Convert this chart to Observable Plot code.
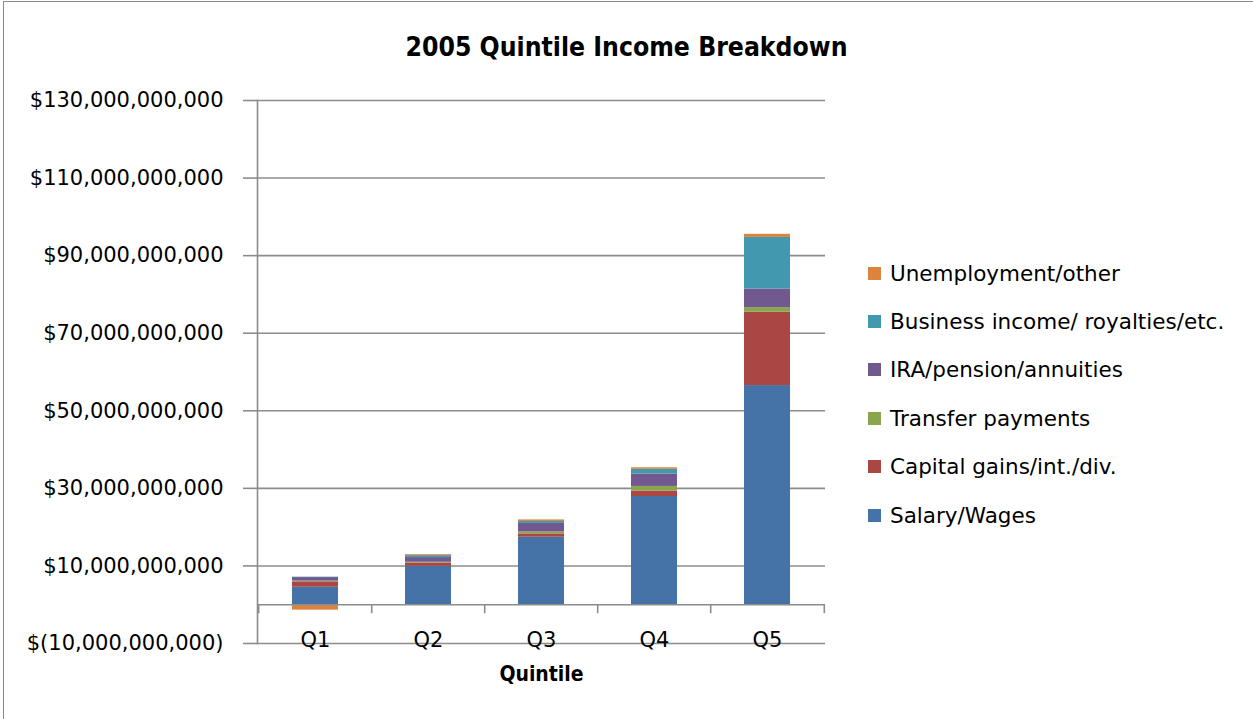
<!DOCTYPE html>
<html>
<head>
<meta charset="utf-8">
<script src="https://cdn.jsdelivr.net/npm/d3@7"></script>
<script src="https://cdn.jsdelivr.net/npm/@observablehq/plot@0.6"></script>
<style>
  html, body { margin: 0; padding: 0; background: #fff; }
  #wrap { position: relative; width: 1253px; height: 719px; overflow: hidden; font-family: "DejaVu Sans", sans-serif; }
  #border { position: absolute; left: 3px; top: 1px; right: -5px; bottom: -5px; border: 1.5px solid #8a8a8a; pointer-events: none; }
  #title { position: absolute; left: 0; top: 0; width: 1253px; height: 80px; text-align: center; line-height: 94px;
           font-family: "DejaVu Sans Condensed", "DejaVu Sans", sans-serif; font-weight: bold; font-size: 26.3px; color: #000; }
  #chart { position: absolute; left: 0; top: 80px; }
  #legend { position: absolute; left: 868px; top: 249px; }
  .item { height: 48.4px; display: flex; align-items: center; font-size: 21.5px; color: #000; white-space: nowrap; }
  .sw { width: 13px; height: 13px; margin-right: 9px; flex: none; }
</style>
</head>
<body>
<div id="wrap">
  <div id="title">2005 Quintile Income Breakdown</div>
  <div id="chart"></div>
  <div id="legend"></div>
  <div id="border"></div>
</div>
<script>
// Categories
const quintiles = ["Q1", "Q2", "Q3", "Q4", "Q5"];
// Series (bottom to top)
const seriesNames = ["Salary/Wages", "Capital gains/int./div.", "Transfer payments", "IRA/pension/annuities", "Business income/ royalties/etc.", "Unemployment/other"];
const seriesColors = ["#4572A7", "#AA4643", "#89A54E", "#71588F", "#4198AF", "#DB843D"];
// Values in billions of dollars, per quintile
const salaryWages      = [4.5, 9.9, 17.4, 27.9, 56.5];
const capitalGains     = [1.4, 0.85, 0.86, 1.4, 18.9];
const transferPayments = [0.2, 0.2, 0.5, 1.2, 1.2];
const iraPension       = [0.9, 1.2, 2.2, 3.2, 4.8];
const businessIncome   = [0.1, 0.5, 0.5, 1.2, 13.3];
const unemployment     = [-1.4, 0.25, 0.4, 0.4, 0.8];
// Y axis tick values
const yTicks = [-10e9, 10e9, 30e9, 50e9, 70e9, 90e9, 110e9, 130e9];

const seriesValues = [salaryWages, capitalGains, transferPayments, iraPension, businessIncome, unemployment];
const table = [];
seriesNames.forEach((s, si) => {
  quintiles.forEach((q, qi) => {
    table.push({quintile: q, series: s, value: seriesValues[si][qi] * 1e9});
  });
});

const W = 1253, H = 639;
const mL = 257, mR = 428, mT = 20, mB = 76;
const step = (W - mL - mR) / quintiles.length;
const fmt = d3.format(",");
const yFmt = v => v < 0 ? "$(" + fmt(-v) + ")" : "$" + fmt(v);
const grid = "#8c8c8c";

const plot = Plot.plot({
  width: W,
  height: H,
  marginLeft: mL,
  marginRight: mR,
  marginTop: mT,
  marginBottom: mB,
  style: {fontFamily: "DejaVu Sans, sans-serif", fontSize: "21px", color: "#000", background: "#fff"},
  x: {type: "band", domain: quintiles, paddingInner: 0.595, paddingOuter: 0.2975, axis: null},
  y: {domain: [-10e9, 130e9], axis: null},
  color: {domain: seriesNames, range: seriesColors, legend: false},
  marks: [
    Plot.ruleY(yTicks, {stroke: grid, strokeWidth: 1.6}),
    Plot.axisY({ticks: yTicks, tickFormat: yFmt, tickSize: 14, tickPadding: 20, stroke: grid, strokeWidth: 1.6, strokeOpacity: 1, fontSize: 21, fill: "#000", label: null}),
    Plot.frame({anchor: "left", stroke: grid, strokeWidth: 1.6}),
    Plot.barY(table, {x: "quintile", y: "value", fill: "series", order: seriesNames}),
    Plot.ruleY([0], {stroke: grid, strokeWidth: 1.6}),
    Plot.ruleX(quintiles, {x: d => d, y1: 0, y2: 0, dx: -step / 2, insetBottom: -9, stroke: grid, strokeWidth: 1.6}),
    Plot.ruleX([quintiles[quintiles.length - 1]], {x: d => d, y1: 0, y2: 0, dx: step / 2, insetBottom: -9, stroke: grid, strokeWidth: 1.6}),
    Plot.text(quintiles, {x: d => d, frameAnchor: "bottom", dy: -3, lineAnchor: "middle", fontSize: 21, fill: "#000"}),
    Plot.text(["Quintile"], {frameAnchor: "bottom", dy: 31, lineAnchor: "middle", fontSize: 21, fontWeight: "bold",
      fontFamily: "DejaVu Sans Condensed, DejaVu Sans, sans-serif", fill: "#000"})
  ]
});
document.getElementById("chart").appendChild(plot);

const legend = document.getElementById("legend");
for (let i = seriesNames.length - 1; i >= 0; i--) {
  const item = document.createElement("div");
  item.className = "item";
  const sw = document.createElement("div");
  sw.className = "sw";
  sw.style.background = seriesColors[i];
  const label = document.createElement("span");
  label.textContent = seriesNames[i];
  item.appendChild(sw);
  item.appendChild(label);
  legend.appendChild(item);
}
</script>
</body>
</html>
